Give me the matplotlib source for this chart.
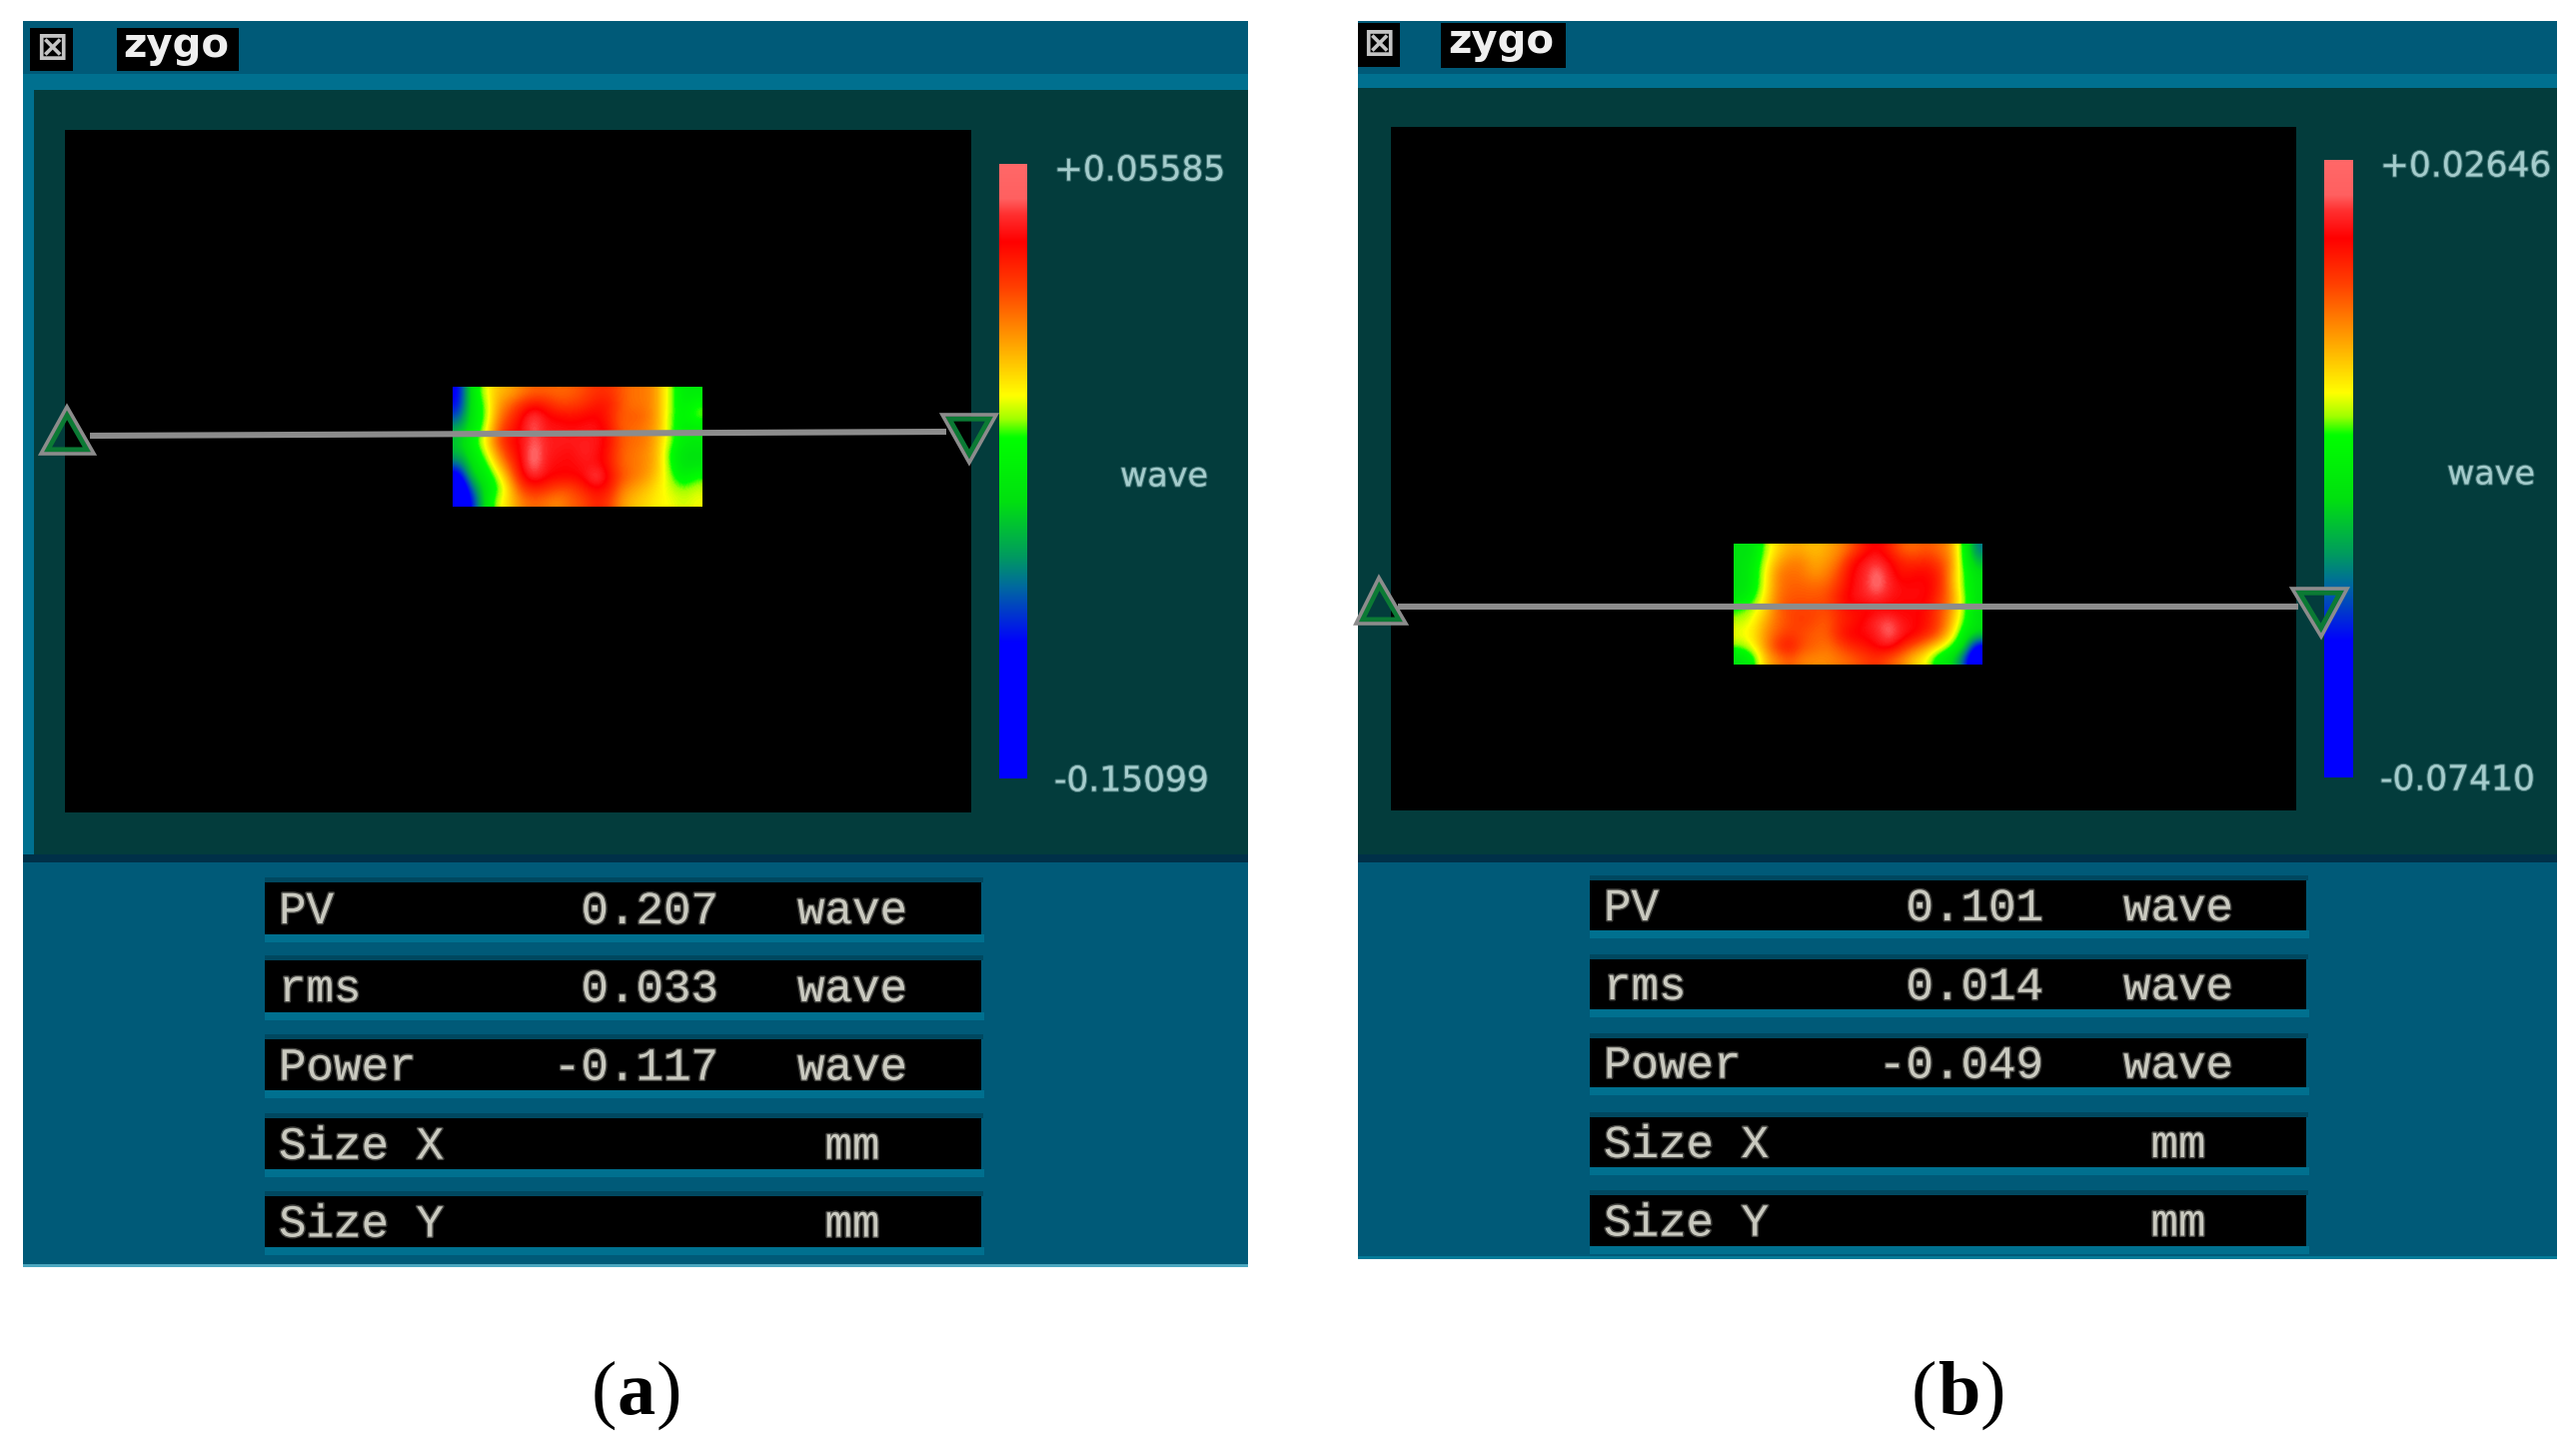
import numpy as np
import matplotlib
matplotlib.use("Agg")
import matplotlib.pyplot as plt
import matplotlib.patheffects as pe
from matplotlib.colors import LinearSegmentedColormap
from matplotlib.patches import Rectangle, Polygon

# ---- data -----------------------------------------------------------------
row_names = ["PV", "rms", "Power", "Size X", "Size Y"]
row_units = ["wave", "wave", "wave", "mm", "mm"]
values_a = ["0.207", "0.033", "-0.117", "", ""]
values_b = ["0.101", "0.014", "-0.049", "", ""]
scale_a = ["+0.05585", "-0.15099"]
scale_b = ["+0.02646", "-0.07410"]
caption_a = "a"
caption_b = "b"

# surface height as percent of the colour scale (0 = bottom, 100 = top)
surface_a = np.array([
    [20, 48, 60, 68, 70, 74, 77, 77, 76, 77, 79, 82, 82, 78, 75, 75, 70, 58, 49, 49],
    [22, 48, 56, 70, 76, 82, 86, 84, 80, 80, 82, 85, 85, 78, 75, 75, 70, 58, 50, 56],
    [28, 48, 55, 72, 80, 87, 94, 88, 87, 86, 87, 88, 84, 77, 78, 76, 70, 57, 52, 58],
    [38, 48, 58, 75, 84, 88, 95, 89, 89, 88, 89, 89, 86, 77, 76, 74, 70, 57, 49, 50],
    [42, 52, 62, 77, 86, 88, 95, 90, 90, 90, 90, 90, 86, 78, 76, 75, 68, 58, 50, 50],
    [40, 48, 58, 72, 83, 88, 98, 90, 89, 88, 91, 89, 85, 77, 75, 73, 68, 54, 46, 46],
    [30, 46, 52, 66, 78, 88, 97, 89, 88, 88, 89, 89, 85, 77, 75, 73, 68, 55, 46, 47],
    [15, 42, 48, 58, 72, 86, 92, 88, 87, 87, 88, 95, 87, 79, 75, 72, 66, 58, 50, 56],
    [5, 30, 46, 54, 66, 80, 84, 82, 79, 79, 84, 87, 85, 75, 71, 68, 64, 60, 58, 60],
    [4, 22, 44, 60, 66, 74, 77, 75, 73, 77, 79, 84, 81, 72, 68, 66, 63, 62, 60, 62],
])
surface_b = np.array([
    [46, 46, 58, 66, 70, 70, 68, 70, 73, 78, 85, 88, 84, 77, 76, 78, 76, 72, 54, 32],
    [46, 49, 60, 70, 74, 74, 70, 72, 76, 86, 90, 92, 88, 84, 82, 84, 80, 74, 54, 40],
    [46, 50, 62, 74, 76, 75, 72, 74, 80, 88, 90, 97, 90, 85, 87, 87, 84, 72, 56, 46],
    [46, 50, 62, 74, 77, 77, 76, 77, 82, 88, 91, 97, 91, 88, 88, 88, 84, 72, 56, 47],
    [48, 54, 64, 75, 78, 78, 78, 79, 85, 89, 90, 92, 89, 88, 88, 88, 82, 74, 58, 47],
    [56, 60, 66, 76, 80, 80, 80, 79, 83, 86, 86, 87, 87, 87, 88, 86, 80, 72, 58, 46],
    [60, 62, 70, 76, 79, 81, 79, 77, 83, 85, 88, 92, 95, 89, 88, 86, 80, 70, 56, 46],
    [62, 64, 72, 78, 81, 79, 77, 77, 84, 88, 88, 90, 96, 90, 88, 84, 78, 66, 50, 44],
    [58, 62, 72, 82, 86, 79, 77, 75, 79, 83, 85, 88, 90, 84, 78, 72, 65, 56, 46, 18],
    [46, 52, 68, 74, 78, 74, 73, 73, 75, 77, 80, 82, 78, 74, 67, 62, 50, 46, 30, 5],
])

# ---- style ----------------------------------------------------------------
BLUE_PANEL = "#005a78"
BAND = "#00708f"
SHADOW = "#004860"
INNER = "#033c3c"
LABEL = "#a4cccc"
MONO = "#c9c9bf"
GREY = "#8c8c8c"
GREEN = "#0b7a34"

zygo_cmap = LinearSegmentedColormap.from_list("zygo", [
    (0.00, "#0000ff"), (0.22, "#0000ff"), (0.31, "#0068a0"), (0.36, "#009a60"),
    (0.45, "#00e010"), (0.555, "#00ff00"), (0.585, "#a0ff00"), (0.623, "#ffff00"),
    (0.726, "#ff9000"), (0.80, "#ff4000"), (0.875, "#ff0000"), (0.92, "#ff3030"),
    (0.945, "#ff6060"), (1.00, "#ff6868")])

fig = plt.figure(figsize=(25.78, 14.49), dpi=100, facecolor="white")
ax = fig.add_axes([0, 0, 1, 1])


def soft(color, width=2.0):
    return [pe.withStroke(linewidth=width, foreground=color, alpha=0.35)]


def rect(x0, y0, x1, y1, color, z=1):
    ax.add_patch(Rectangle((x0, y0), x1 - x0, y1 - y0, facecolor=color, edgecolor="none", zorder=z))


def triangle(pts):
    pts = np.array(pts, float)
    c = pts.mean(axis=0)
    ax.add_patch(Polygon(c + (pts - c) * 0.74, closed=True, facecolor="none", edgecolor=GREEN, lw=3.6, zorder=6))
    ax.add_patch(Polygon(pts, closed=True, facecolor="none", edgecolor=GREY, lw=2.6, zorder=7))


def panel(p):
    x0, x1, y0, y1 = p["outer"]
    rect(x0, y0, x1, y1, BLUE_PANEL)
    rect(x0, p["band"][0], x1, p["band"][1], BAND, 2)
    rect(p["inner_x"], p["band"][1], x1, p["inner_y"], INNER, 2)
    rect(x0, p["inner_y"], x1, p["inner_y"] + 8, "#003048", 2)
    if p["stripe"]:
        rect(x0, p["band"][1], p["inner_x"], p["inner_y"], BAND, 2)
    rect(x0, y1 - 3, x1, y1, "#4aa6bf" if p["stripe"] else "#007a98", 2)

    # title bar
    bx = p["xbox"]
    rect(bx[0], bx[2], bx[1], bx[3], "black", 3)
    ax.text((bx[0] + bx[1]) / 2, (bx[2] + bx[3]) / 2, "\u22a0", color="#c4c4c4", fontsize=27, fontweight="bold",
            ha="center", va="center", family="DejaVu Sans", zorder=4)
    zb = p["zbox"]
    rect(zb[0], zb[2], zb[1], zb[3], "black", 3)
    ax.text((zb[0] + zb[1]) / 2 - 2, (zb[2] + zb[3]) / 2 - 3, "zygo", color="#efefef", fontsize=29,
            fontweight="bold", ha="center", va="center", family="DejaVu Sans", zorder=4)

    # plot area and surface
    b = p["black"]
    rect(b[0], b[2], b[1], b[3], "black", 3)
    s = p["surf"]
    ax.imshow(p["surface"], cmap=zygo_cmap, vmin=0, vmax=100, extent=(s[0], s[1], s[3], s[2]),
              interpolation="bicubic", interpolation_stage="data", aspect="auto", zorder=4)

    # profile line and its end markers
    ax.plot(p["line"][0], p["line"][1], color=GREY, lw=4.4, solid_capstyle="butt", zorder=5)
    triangle(p["up"])
    triangle(p["down"])

    # colour bar
    c = p["cbar"]
    ax.imshow(np.linspace(100, 0, 256).reshape(-1, 1), cmap=zygo_cmap, vmin=0, vmax=100,
              extent=(c[0], c[1], c[3], c[2]), interpolation="bilinear", aspect="auto", zorder=4)
    for label, ypos in zip(p["scale"], (c[2] + 7, c[3] + 3)):
        ax.text(p["scale_x"], ypos, label, color=LABEL, fontsize=24.8, ha="left", va="center",
                family="DejaVu Sans", zorder=4, path_effects=soft(LABEL, 1.6))
    ax.text(p["wave_x"], p["wave_y"], "wave", color=LABEL, fontsize=24, ha="center", va="center",
            family="DejaVu Sans", zorder=4, path_effects=soft(LABEL, 1.6))

    # read-out table
    tx0, tx1 = p["table_x"]
    for i, (name, value, unit) in enumerate(zip(row_names, p["values"], row_units)):
        top, bottom = p["rows"][i]
        rect(tx0, top - 5, tx1 + 2, top, SHADOW, 2)
        rect(tx0, bottom, tx1 + 3, bottom + 8, BAND, 2)
        rect(tx0, top, tx1, bottom, "black", 3)
        mid = (top + bottom) / 2 + 3
        kw = dict(color=MONO, fontsize=33, va="center", family="Liberation Mono", zorder=4,
                  path_effects=soft(MONO, 2.2))
        ax.text(p["name_x"], mid, name, ha="left", **kw)
        if value:
            ax.text(p["value_x"], mid, value, ha="right", **kw)
        ax.text(p["unit_x"], mid, unit, ha="center", **kw)

    # caption
    half = p["cap_half"]
    cap = dict(fontsize=55, va="center", family="Liberation Serif", color="black")
    ax.text(p["cap_x"] - half, 1396, "(", ha="right", **cap)
    ax.text(p["cap_x"], 1396, p["caption"], ha="center", fontweight="bold", **cap)
    ax.text(p["cap_x"] + half, 1396, ")", ha="left", **cap)


panel_a = dict(
    outer=(23, 1249, 21, 1268), band=(74, 90), inner_x=34, inner_y=855, stripe=True,
    xbox=(30, 73, 28, 71), zbox=(117, 239, 28, 71),
    black=(65, 972, 130, 813), surf=(453, 703, 387, 507), surface=surface_a,
    line=((90, 947), (436, 432)),
    up=[(67, 407), (41, 454), (94, 454)], down=[(943, 415), (997, 415), (970, 463)],
    cbar=(1000, 1028, 164, 779), scale=scale_a, scale_x=1055, wave_x=1165, wave_y=477,
    table_x=(265, 982), rows=[(883, 935), (961, 1013), (1040, 1091), (1119, 1170), (1197, 1248)],
    values=values_a, name_x=279, value_x=719, unit_x=853, cap_x=637, cap_half=20, caption=caption_a)

panel_b = dict(
    outer=(1359, 2559, 21, 1260), band=(74, 88), inner_x=1359, inner_y=855, stripe=False,
    xbox=(1359, 1401, 23, 67), zbox=(1442, 1567, 23, 68),
    black=(1392, 2298, 127, 811), surf=(1735, 1984, 544, 665), surface=surface_b,
    line=((1399, 2300), (607, 607)),
    up=[(1380, 578), (1357, 624), (1407, 624)], down=[(2294, 589), (2349, 589), (2323, 637)],
    cbar=(2326, 2355, 160, 778), scale=scale_b, scale_x=2382, wave_x=2493, wave_y=475,
    table_x=(1591, 2308), rows=[(881, 931), (960, 1010), (1039, 1088), (1118, 1168), (1196, 1247)],
    values=values_b, name_x=1605, value_x=2045, unit_x=2180, cap_x=1960, cap_half=22, caption=caption_b)

panel(panel_a)
panel(panel_b)

ax.set_xlim(0, 2578)
ax.set_ylim(1449, 0)
ax.axis("off")
fig.savefig("out.png", dpi=100, facecolor="white")
